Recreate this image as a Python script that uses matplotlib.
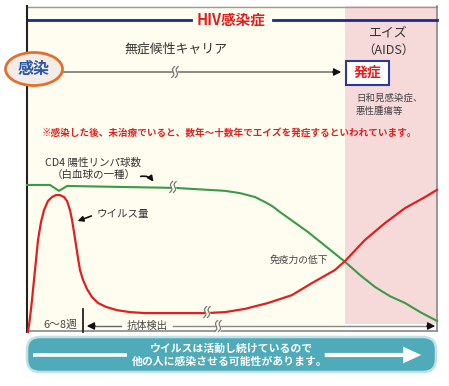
import numpy as np
import matplotlib
matplotlib.use("Agg")
import matplotlib.pyplot as plt
from matplotlib.patches import Rectangle, Ellipse, FancyBboxPatch, FancyArrowPatch

plt.rcParams['font.family'] = ['Noto Sans CJK JP', 'DejaVu Sans']

# ---- data (time 0-100, level 0-100) ----
virus_t = [0.24, 0.73, 1.22, 1.71, 2.20, 2.68, 3.41, 4.15, 5.12, 6.10, 7.07, 8.05,
           9.02, 9.76, 10.49, 10.98, 11.46, 11.95, 12.44, 12.93, 13.66, 14.63, 15.85,
           17.32, 19.27, 21.95, 25.12, 28.78, 36.1, 43.9, 48.3, 53.2, 58.8, 64.6,
           69.5, 75.1, 77.6, 82.4, 87.3, 92.2, 97.1, 100.0]
virus_v = [0.0, 4.3, 9.8, 16.0, 22.1, 28.2, 33.7, 37.4, 40.2, 41.4, 42.0, 42.0,
           41.4, 40.2, 37.4, 34.4, 30.7, 26.7, 22.7, 19.0, 16.0, 13.2, 10.7,
           8.9, 7.7, 6.7, 6.1, 5.8, 5.8, 5.8, 6.1, 7.1, 8.9, 11.3,
           15.0, 19.0, 21.8, 28.2, 33.4, 38.0, 41.4, 43.6]
cd4_t = [0.0, 5.6, 7.8, 9.8, 22.7, 36.1, 48.3, 51.95, 55.6, 58.0, 59.76, 61.7,
         68.5, 77.6, 81.2, 84.9, 88.5, 92.2, 95.9, 100.0]
cd4_v = [45.1, 45.1, 43.3, 44.8, 44.5, 44.2, 43.3, 42.6, 41.4, 39.9, 38.65, 36.8,
         30.7, 21.5, 17.5, 13.8, 11.0, 8.9, 6.1, 3.4]

title = "HIV感染症"
phase_carrier = "無症候性キャリア"
phase_aids = ["エイズ", "（AIDS）"]
label_infect = "感染"
label_onset = "発症"
onset_note = ["日和見感染症、", "悪性腫瘍等"]
note = "※感染した後、未治療でいると、数年～十数年でエイズを発症するといわれています。"
cd4_label = ["CD4 陽性リンパ球数", "（白血球の一種）"]
virus_label = "ウイルス量"
immune_label = "免疫力の低下"
weeks_label = "6～8週"
antibody_label = "抗体検出"
banner = ["ウイルスは活動し続けているので", "他の人に感染させる可能性があります。"]

RED = "#e0201e"
GREEN = "#3a9a48"
NAVY = "#1c2a8c"
CREAM = "#fffdf0"
PINK = "#f6dada"
TEAL = "#4faab9"

fig = plt.figure(figsize=(4.49, 3.86), dpi=100)
ax = fig.add_axes([0, 0, 1, 1])
ax.set_xlim(0, 449)
ax.set_ylim(386, 0)
ax.axis('off')

# backgrounds
ax.add_patch(Rectangle((27, 6), 318, 326, fc=CREAM, ec='none', zorder=0))
ax.add_patch(Rectangle((345, 6), 92, 318, fc=PINK, ec='none', zorder=0))
# frame
ax.plot([27, 437], [6.5, 6.5], color="#999999", lw=1.0, zorder=1)
ax.plot([437, 437], [6, 331], color="#888888", lw=1.2, zorder=1)
ax.plot([27, 437], [331, 331], color="#888888", lw=1.2, zorder=1)
ax.plot([27, 27], [6, 332], color="#222222", lw=1.5, zorder=3)

# title line
ax.plot([27, 191], [20, 20], color=NAVY, lw=2.0, zorder=2)
ax.plot([273, 437], [20, 20], color=NAVY, lw=2.0, zorder=2)
ax.text(231.5, 20, title, color=RED, fontsize=10.5, fontweight='bold', ha='center', va='center')

ax.text(176, 49, phase_carrier, color="#333333", fontsize=9.3, ha='center', va='center')
ax.text(388, 33, phase_aids[0], color="#333333", fontsize=9.3, ha='center', va='center')
ax.text(388, 50, phase_aids[1], color="#333333", fontsize=9.0, ha='center', va='center')

# infection ellipse and arrow
ax.plot([63, 336], [72, 72], color="#777777", lw=1.2, zorder=2)
ax.add_patch(FancyArrowPatch((330, 72), (344, 72), arrowstyle='-|>', mutation_scale=11,
                             color='#111111', lw=1, zorder=3))
ax.add_patch(Ellipse((34, 69), 57, 33, fc="#f4ece6", ec="#e2702e", lw=2.0, zorder=4))
ax.text(34, 69, label_infect, color="#2a58a6", fontsize=11.5, fontweight='bold',
        ha='center', va='center', zorder=5)
ax.add_patch(Rectangle((346, 61), 43, 24, fc='white', ec="#2a3a9a", lw=1.5, zorder=4))
ax.text(367.5, 73, label_onset, color=RED, fontsize=10, fontweight='bold',
        ha='center', va='center', zorder=5)
ax.text(356, 98, onset_note[0], color="#444444", fontsize=6.8, ha='left', va='center')
ax.text(356, 111, onset_note[1], color="#444444", fontsize=6.8, ha='left', va='center')

ax.text(229, 133, note, color=RED, fontsize=6.9, fontweight='bold', ha='center', va='center')

# curves
cax = fig.add_axes([27 / 449, (386 - 332) / 386, 410 / 449, 326 / 386])
cax.set_xlim(0, 100)
cax.set_ylim(0, 100)
cax.axis('off')
cax.patch.set_alpha(0)
cax.plot(cd4_t, cd4_v, color=GREEN, lw=1.5, solid_joinstyle='round', clip_on=False)
cax.plot(virus_t, virus_v, color=RED, lw=1.6, solid_joinstyle='round', clip_on=False)


def brk(x, y, bg, h=11):
    s = np.linspace(-1, 1, 40)
    ys = y + h / 2 * s
    base = x - 0.25 * (ys - y)
    cax.fill_betweenx(ys, base - 1.8 + 1.3 * np.sin(np.pi * s), base + 1.8 + 1.3 * np.sin(np.pi * s),
                      color=bg, transform=ax.transData, zorder=6, clip_on=False)
    for dx in (-1.8, 1.8):
        cax.plot(base + dx + 1.3 * np.sin(np.pi * s), ys, color="#777777", lw=0.9,
                 transform=ax.transData, zorder=7, clip_on=False)


# bottom axis
ax.plot([83, 83], [309, 332], color="#222222", lw=1.3, zorder=3)
ax.add_patch(FancyArrowPatch((98, 326), (84, 326), arrowstyle='-|>', mutation_scale=11,
                             color='#111111', lw=1, zorder=3))
ax.plot([95, 121], [326, 326], color="#666666", lw=1.0, zorder=2)
ax.plot([173, 428], [326, 326], color="#888888", lw=1.0, zorder=2)
ax.add_patch(FancyArrowPatch((424, 326), (438, 326), arrowstyle='-|>', mutation_scale=11,
                             color='#111111', lw=1, zorder=3))
ax.text(60, 325, weeks_label, color="#444444", fontsize=7.8, ha='center', va='center')
ax.text(147, 326, antibody_label, color="#444444", fontsize=7.4, ha='center', va='center')

brk(175, 72, CREAM)
brk(173, 187, CREAM)
brk(207, 312, CREAM)
brk(218, 326, CREAM)

# labels on curves
ax.text(45, 163, cd4_label[0], color="#333333", fontsize=7.6, ha='left', va='center')
ax.text(52, 175, cd4_label[1], color="#333333", fontsize=7.6, ha='left', va='center')
ax.add_patch(FancyArrowPatch((138, 177), (155, 184), arrowstyle='-|>', mutation_scale=8,
                             connectionstyle='arc3,rad=-0.4', color='#111111', lw=1.2, zorder=5))
ax.text(97, 214, virus_label, color="#333333", fontsize=7.6, ha='left', va='center')
ax.add_patch(FancyArrowPatch((94, 215), (75, 222), arrowstyle='-|>', mutation_scale=8,
                             color='#111111', lw=1.2, zorder=5))
ax.text(299, 260, immune_label, color="#444444", fontsize=7.0, ha='center', va='center', zorder=8)

# banner
ax.add_patch(FancyBboxPatch((27, 337), 409, 35, boxstyle='round,pad=0,rounding_size=13',
                            fc=TEAL, ec="#bfe2e7", lw=1.8, zorder=2))
ax.plot([33, 127], [355, 355], color='white', lw=2.6, zorder=3, solid_capstyle='butt')
ax.add_patch(FancyArrowPatch((322, 355), (424, 355), arrowstyle='simple,head_length=1.3,head_width=1.2,tail_width=0.3',
                             mutation_scale=10, color='white', lw=0, zorder=3))
ax.text(231, 349, banner[0], color='white', fontsize=7.8, fontweight='bold', ha='center', va='center', zorder=4)
ax.text(230, 362, banner[1], color='white', fontsize=7.8, fontweight='bold', ha='center', va='center', zorder=4)

fig.savefig("out.png", dpi=100)
